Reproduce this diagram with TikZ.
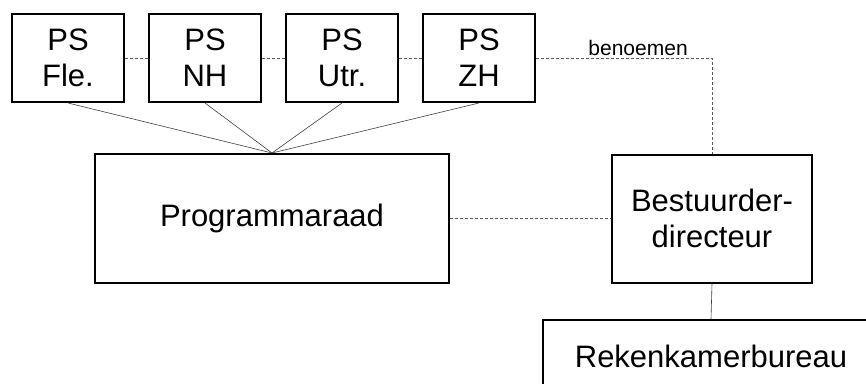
\documentclass[tikz,border=0pt]{standalone}
\usepackage{fontspec}
\setmainfont{Liberation Sans}
\usetikzlibrary{positioning}

\begin{document}
\begin{tikzpicture}[x=1pt, y=1pt,
  node distance=5mm and 23pt,
  box/.style={rectangle, draw=black, line width=2pt, fill=white,
              align=center, inner sep=0pt,
              font=\fontsize{31}{36}\selectfont},
  psbox/.style={box, minimum width=112pt, minimum height=88pt},
  link/.style={draw=black!75, line width=0.6pt},
  dlink/.style={draw=black!65, line width=0.7pt, dash pattern=on 3pt off 2pt},
  note/.style={font=\fontsize{21}{24}\selectfont, inner sep=2pt},
]
  \useasboundingbox (0,0) rectangle (866,-383);
  \clip (0,0) rectangle (866,-383);

  % ---- Provinciale Staten ----
  \node[psbox, anchor=north west] (fle) at (11,-13) {PS\\Fle.};
  \node[psbox, right=of fle] (nh) {PS\\NH};
  \node[psbox, right=of nh] (utr) {PS\\Utr.};
  \node[psbox, right=of utr] (zh) {PS\\ZH};

  % ---- Programmaraad and Bestuurder-directeur ----
  \node[box, anchor=north west, minimum width=354pt, minimum height=129pt]
       (raad) at (94,-153) {Programmaraad};
  \node[box, right=161pt of raad, minimum width=200pt, minimum height=128pt]
       (dir) {Bestuurder-\\directeur};
  \node[box, anchor=north west, minimum width=336pt, minimum height=72pt]
       (bureau) at (542,-319) {Rekenkamerbureau};

  % ---- lines ----
  \foreach \ps in {fle,nh,utr,zh}
    \draw[link] (\ps.south) -- (raad.north);
  \draw[dlink] (fle) -- (nh);
  \draw[dlink] (nh) -- (utr);
  \draw[dlink] (utr) -- (zh);
  \draw[dlink] (zh.east) -| node[pos=0.29, above, note]{benoemen} (dir.north);
  \draw[dlink] (raad) -- (dir);
  \draw[link] (dir.south) -- (bureau.north);
\end{tikzpicture}
\end{document}
